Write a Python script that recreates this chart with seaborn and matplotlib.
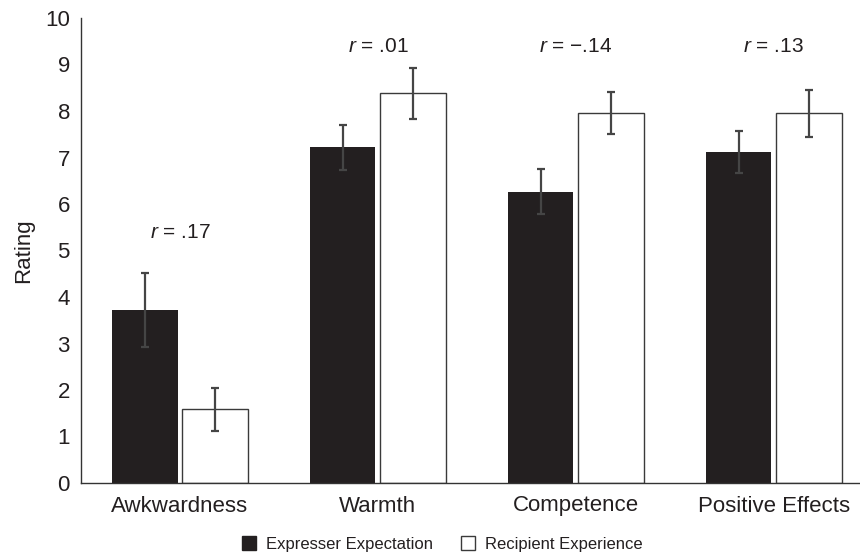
import pandas as pd
import matplotlib.pyplot as plt
import seaborn as sns
from matplotlib.lines import Line2D

# ─── datos ──────────────────────────────────────────────────────────────
categories = ["Awkwardness", "Warmth", "Competence", "Positive Effects"]
groups = ["Expresser Expectation", "Recipient Experience"]
expresser_mean = [3.72, 7.22, 6.26, 7.11]
expresser_lo = [2.92, 6.73, 5.78, 6.66]
expresser_hi = [4.52, 7.70, 6.75, 7.57]
recipient_mean = [1.59, 8.38, 7.96, 7.95]
recipient_lo = [1.12, 7.83, 7.51, 7.45]
recipient_hi = [2.04, 8.92, 8.41, 8.45]
r_labels = [".17", ".01", "\u2212.14", ".13"]
r_label_y = [5.38, 9.38, 9.38, 9.38]
y_ticks = list(range(0, 11))

df = pd.DataFrame({
    "category": categories * 2,
    "group": [groups[0]] * 4 + [groups[1]] * 4,
    "mean": expresser_mean + recipient_mean,
    "lo": expresser_lo + recipient_lo,
    "hi": expresser_hi + recipient_hi,
})

# ─── estilo ─────────────────────────────────────────────────────────────
sns.set_style("white")
FONT = ["Liberation Sans", "DejaVu Sans"]
plt.rcParams["font.family"] = FONT
plt.rcParams["mathtext.fontset"] = "custom"
plt.rcParams["mathtext.it"] = "Liberation Sans:italic"
plt.rcParams["mathtext.rm"] = "Liberation Sans"
DARK = "#231f20"
EDGE = "#3a3a3a"
TXT = "#231f20"

fig = plt.figure(figsize=(8.6, 5.57), dpi=100)
ax = fig.add_axes([81 / 860, 1 - 483 / 557, 1 - 81 / 860, (483 - 18) / 557])

sns.barplot(data=df, x="category", y="mean", hue="group", order=categories,
            hue_order=groups, palette=[DARK, "white"], width=0.71, gap=0.07,
            errorbar=None, legend=False, ax=ax, saturation=1)

# bordes y barras de error
for i, bar in enumerate(ax.patches[:8]):
    if i // 4 == 1:
        bar.set_edgecolor(EDGE)
        bar.set_linewidth(1.0)
    else:
        bar.set_linewidth(0)
    row = df.iloc[i]
    cx = bar.get_x() + bar.get_width() / 2
    ax.errorbar(cx, row["mean"], yerr=[[row["mean"] - row["lo"]], [row["hi"] - row["mean"]]],
                fmt="none", ecolor="#454545", elinewidth=1.6, capsize=3, capthick=1.6, zorder=5)

# anotaciones r
for i, (lab, yv) in enumerate(zip(r_labels, r_label_y)):
    ax.text(i, yv, r"$\it{r}$" + " = " + lab, ha="center", va="center",
            fontsize=15, color=TXT)

ax.set_ylim(0, 10)
ax.set_xlim(-0.5, 3.435)
ax.set_yticks(y_ticks)
ax.set_xlabel("")
ax.set_ylabel("Rating", fontsize=16, color=TXT, labelpad=8)
ax.tick_params(axis="both", length=0, labelsize=16, colors=TXT)
ax.tick_params(axis="y", pad=8)
ax.tick_params(axis="x", pad=9)
for s in ["top", "right"]:
    ax.spines[s].set_visible(False)
for s in ["left", "bottom"]:
    ax.spines[s].set_color("#333333")
    ax.spines[s].set_linewidth(1.0)

handles = [
    Line2D([], [], marker="s", linestyle="none", markersize=9.5,
           markerfacecolor=DARK, markeredgecolor=DARK),
    Line2D([], [], marker="s", linestyle="none", markersize=9.5,
           markerfacecolor="white", markeredgecolor=EDGE, markeredgewidth=1),
]
fig.legend(handles, groups, loc="center", bbox_to_anchor=(0.513, 0.022), ncol=2,
           frameon=False, fontsize=12, handletextpad=0.45, columnspacing=1.6,
           handlelength=1.1, labelcolor=TXT)

plt.savefig("out.png", dpi=100)
